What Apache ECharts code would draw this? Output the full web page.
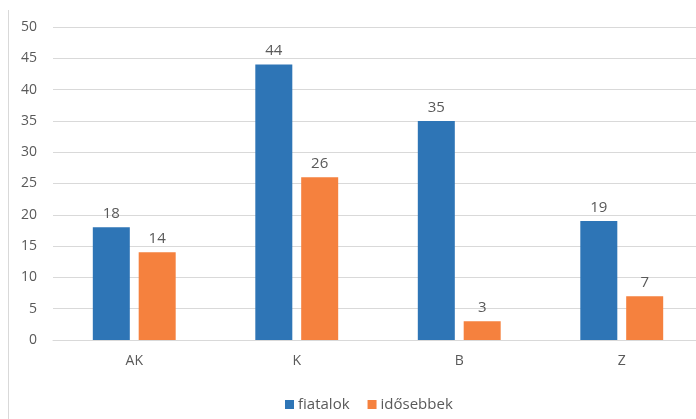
<!DOCTYPE html>
<html><head><meta charset="utf-8">
<script src="https://cdn.jsdelivr.net/npm/echarts@6/dist/echarts.min.js"></script>
<style>html,body{margin:0;padding:0;background:#fff}#c{width:696px;height:419px}</style>
</head><body><div id="c"></div>
<script>
const categories = ['AK', 'K', 'B', 'Z'];
const fiatalok = [18, 44, 35, 19];
const idosebbek = [14, 26, 3, 7];
const seriesNames = ['fiatalok', 'idősebbek'];
const yTicks = {min: 0, max: 50, interval: 5};

const chart = echarts.init(document.getElementById('c'));
const font = 'Open Sans';
const txt = '#595959';
chart.setOption({
  animation: false,
  textStyle: {fontFamily: font},
  graphic: [{type: 'line', shape: {x1: 8.5, y1: 10, x2: 8.5, y2: 419}, style: {stroke: '#d9d9d9', lineWidth: 1}}],
  grid: {left: 53, width: 650, top: 27, height: 313, outerBoundsMode: 'none', containLabel: false},
  legend: {
    bottom: 2, left: 280, itemWidth: 9, itemHeight: 9, itemGap: 18,
    icon: 'rect',
    textStyle: {color: txt, fontSize: 15, fontFamily: font, padding: [0, 0, 0, -1]},
    data: seriesNames
  },
  xAxis: {
    type: 'category', data: categories,
    axisLine: {show: true, lineStyle: {color: '#d9d9d9'}},
    axisTick: {show: false},
    axisLabel: {color: txt, fontSize: 14, margin: 14, fontFamily: font}
  },
  yAxis: {
    type: 'value', min: yTicks.min, max: yTicks.max, interval: yTicks.interval,
    axisLine: {show: false}, axisTick: {show: false},
    axisLabel: {color: txt, fontSize: 14, margin: 16, fontFamily: font},
    splitLine: {lineStyle: {color: '#d9d9d9', width: 1}}
  },
  series: [
    {name: seriesNames[0], type: 'bar', data: fiatalok, barWidth: 37, barGap: '24%',
     itemStyle: {color: '#2E75B6'},
     label: {show: true, position: 'top', color: txt, fontSize: 15, distance: 6, fontFamily: font}},
    {name: seriesNames[1], type: 'bar', data: idosebbek, barWidth: 37,
     itemStyle: {color: '#F5813E'},
     label: {show: true, position: 'top', color: txt, fontSize: 15, distance: 6, fontFamily: font}}
  ]
});
</script></body></html>
